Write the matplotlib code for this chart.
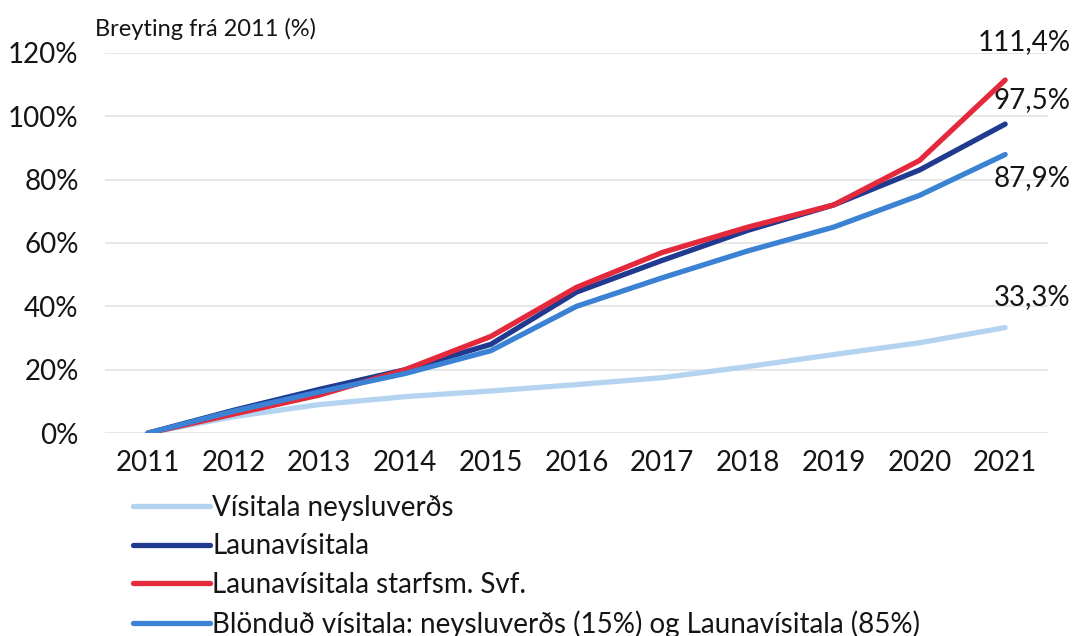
import matplotlib
matplotlib.use("Agg")
import matplotlib.pyplot as plt
import matplotlib.ticker as ticker

plt.rcParams["font.family"] = ["Lato", "DejaVu Sans"]

years = [2011, 2012, 2013, 2014, 2015, 2016, 2017, 2018, 2019, 2020, 2021]

# % change from 2011
cpi     = [0, 5.2, 9.0, 11.5, 13.3, 15.3, 17.5, 21.0, 24.8, 28.5, 33.3]
launa   = [0, 7.2, 13.8, 20.0, 28.0, 44.5, 54.5, 64.0, 72.0, 83.0, 97.5]
svf     = [0, 6.0, 12.0, 20.0, 30.5, 46.0, 57.0, 65.0, 72.0, 86.0, 111.4]
blended = [0, 6.9, 13.0, 18.8, 26.0, 40.0, 49.0, 57.5, 65.0, 75.0, 87.9]

labels = [
    "Vísitala neysluverðs",
    "Launavísitala",
    "Launavísitala starfsm. Svf.",
    "Blönduð vísitala: neysluverðs (15%) og Launavísitala (85%)",
]
end_labels = ["33,3%", "97,5%", "111,4%", "87,9%"]

C_CPI = "#b4d3f0"
C_LAUNA = "#1f3a8f"
C_SVF = "#e3293b"
C_BLEND = "#3b82d4"
TXT = "#151515"

fig = plt.figure(figsize=(10.76, 6.36), dpi=100)
ax = fig.add_axes([0.0976, 0.319, 0.8764, 0.598])

x = list(range(len(years)))
lw = 3.8
ax.plot(x, cpi, color=C_CPI, lw=lw, solid_capstyle="round", label=labels[0], zorder=2)
ax.plot(x, launa, color=C_LAUNA, lw=lw, solid_capstyle="round", label=labels[1], zorder=3)
ax.plot(x, svf, color=C_SVF, lw=lw, solid_capstyle="round", label=labels[2], zorder=4)
ax.plot(x, blended, color=C_BLEND, lw=lw, solid_capstyle="round", label=labels[3], zorder=5)

ax.set_xlim(-0.5, len(years) - 0.5)
ax.set_ylim(0, 120)
ax.set_xticks(x)
ax.set_xticklabels([str(y) for y in years])
ax.yaxis.set_major_locator(ticker.MultipleLocator(20))
ax.yaxis.set_major_formatter(ticker.FuncFormatter(lambda v, _: f"{v:.0f}%"))
ax.tick_params(axis="both", length=0, labelsize=20, colors=TXT)
ax.tick_params(axis="y", pad=19)
ax.tick_params(axis="x", pad=12)
ax.grid(axis="y", color="#e3e3e3", lw=1.2)
ax.set_axisbelow(True)
for s in ax.spines.values():
    s.set_visible(False)

# end-of-line value labels (offsets in points)
last = len(years) - 1
offsets = [(47, 22), (47, 17), (47, 27), (47, -17)]
values = [cpi[-1], launa[-1], svf[-1], blended[-1]]
for lab, val, off in zip(end_labels, values, offsets):
    ax.annotate(lab, (last, val), xytext=off, textcoords="offset points",
                ha="right", va="center", fontsize=20, color=TXT,
                annotation_clip=False)

fig.text(0.088, 0.955, "Breyting frá 2011 (%)", fontsize=17, color=TXT,
         ha="left", va="center")

leg = fig.legend(loc="upper left", bbox_to_anchor=(0.124, 0.222), frameon=False,
                 fontsize=20, handlelength=2.75, handletextpad=0.08,
                 labelspacing=0.45, borderaxespad=0, borderpad=0)
for t in leg.get_texts():
    t.set_color(TXT)

fig.savefig("out.png", dpi=100)
